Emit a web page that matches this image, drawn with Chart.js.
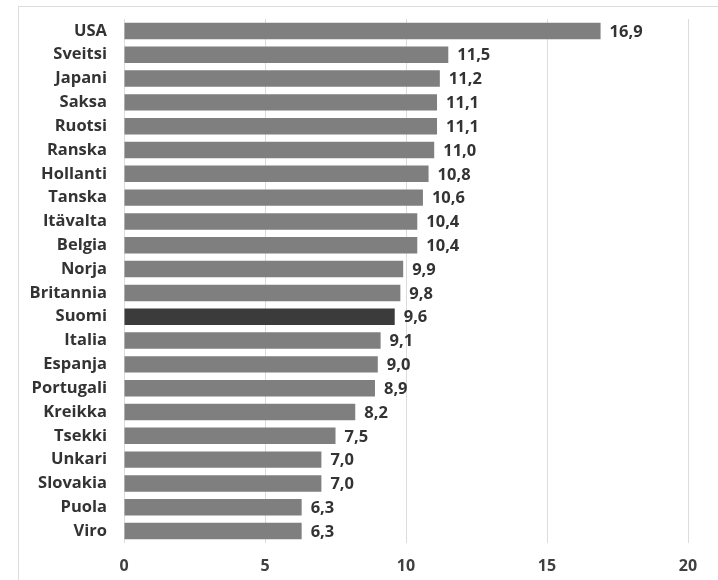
<!DOCTYPE html>
<html>
<head>
<meta charset="utf-8">
<script src="https://cdn.jsdelivr.net/npm/chart.js@4"></script>
<style>
  html, body { margin: 0; padding: 0; background: #fff; }
  #wrap { position: relative; width: 718px; height: 580px; overflow: hidden; }
  #frame { position: absolute; left: 18px; top: 6px; width: 720px; height: 600px; border: 1px solid #dcdcdc; }
  canvas { position: absolute; left: 0; top: 0; }
</style>
</head>
<body>
<div id="wrap">
  <div id="frame"></div>
  <canvas id="chart" width="718" height="580"></canvas>
</div>
<script>
const countries = [
  "USA", "Sveitsi", "Japani", "Saksa", "Ruotsi", "Ranska", "Hollanti", "Tanska",
  "Itävalta", "Belgia", "Norja", "Britannia", "Suomi", "Italia", "Espanja",
  "Portugali", "Kreikka", "Tsekki", "Unkari", "Slovakia", "Puola", "Viro"
];
const values = [
  16.9, 11.5, 11.2, 11.1, 11.1, 11.0, 10.8, 10.6,
  10.4, 10.4, 9.9, 9.8, 9.6, 9.1, 9.0,
  8.9, 8.2, 7.5, 7.0, 7.0, 6.3, 6.3
];
const highlight = "Suomi";
const xTicks = [0, 5, 10, 15, 20];

const fontFamily = "'Open Sans', 'DejaVu Sans', sans-serif";

// value labels right of each bar, finnish decimal comma
const valueLabels = {
  id: "valueLabels",
  afterDatasetsDraw(chart) {
    const ctx = chart.ctx;
    const meta = chart.getDatasetMeta(0);
    ctx.save();
    ctx.font = "bold 16.5px " + fontFamily;
    ctx.fillStyle = "#333333";
    ctx.textAlign = "left";
    ctx.textBaseline = "middle";
    meta.data.forEach((bar, i) => {
      ctx.fillText(values[i].toFixed(1).replace(".", ","), bar.x + 9, bar.y + 1);
    });
    ctx.restore();
  },
};

const ctx = document.getElementById("chart").getContext("2d");

new Chart(ctx, {
  type: "bar",
  data: {
    labels: countries,
    datasets: [
      {
        data: values,
        backgroundColor: countries.map((c) => (c === highlight ? "#3b3b3b" : "#7f7f7f")),
        borderWidth: 0,
        barPercentage: 0.69,
        categoryPercentage: 1,
      },
    ],
  },
  options: {
    indexAxis: "y",
    responsive: false,
    animation: false,
    layout: { padding: { top: 19, right: 30, left: 0, bottom: 0 } },
    plugins: {
      legend: { display: false },
      tooltip: { enabled: false },
    },
    scales: {
      x: {
        min: 0,
        max: 20,
        afterBuildTicks: (scale) => {
          scale.ticks = xTicks.map((v) => ({ value: v }));
        },
        afterFit: (scale) => {
          scale.height = 37;
        },
        grid: { color: "#dcdcdc", drawTicks: false },
        border: { display: false },
        ticks: {
          padding: 14,
          color: "#404040",
          font: { family: fontFamily, size: 16, weight: "bold" },
        },
      },
      y: {
        afterFit: (scale) => {
          scale.width = 124;
          scale.paddingTop = 0;
          scale.paddingBottom = 0;
        },
        grid: { display: false, drawTicks: false },
        border: { display: false },
        ticks: {
          padding: 17,
          color: "#333333",
          font: { family: fontFamily, size: 16.5, weight: "bold" },
        },
      },
    },
  },
  plugins: [valueLabels],
});
</script>
</body>
</html>
